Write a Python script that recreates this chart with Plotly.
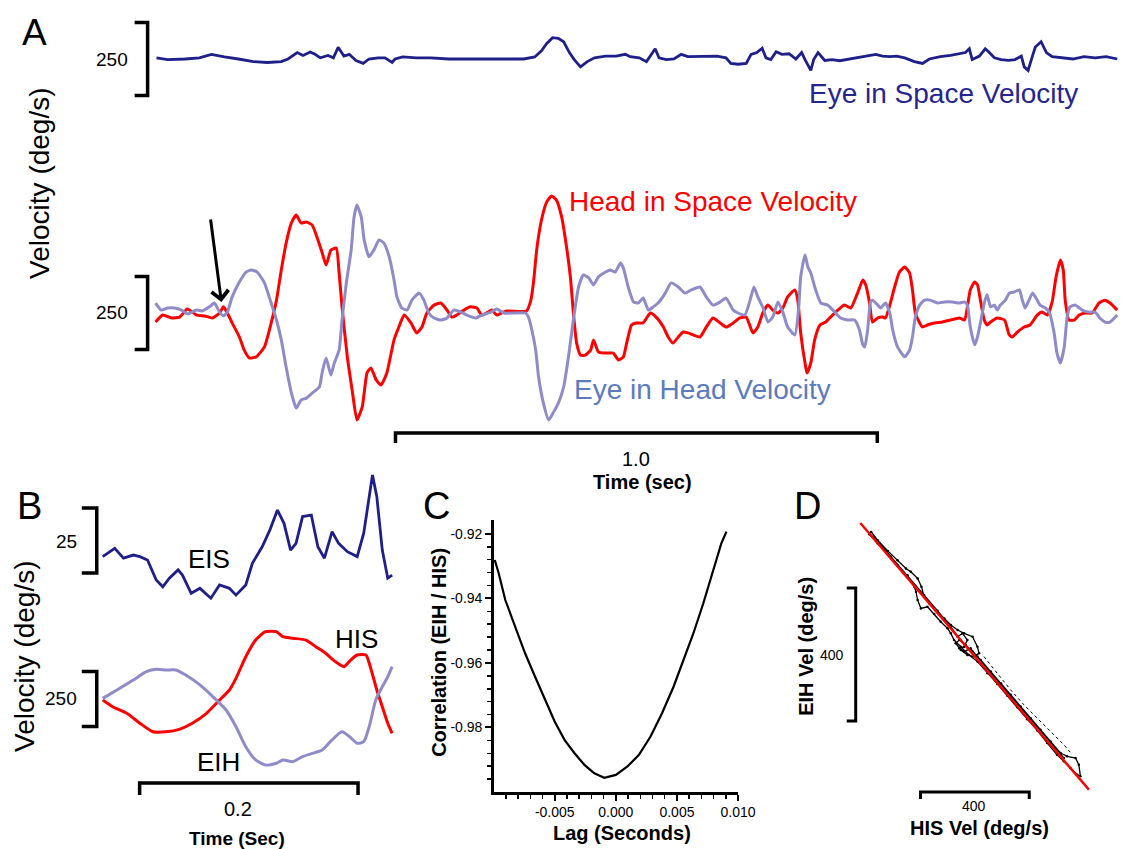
import plotly.graph_objects as go

# ---------------- DATA ----------------
# Panel A - Eye in Space velocity (deg/s) vs time (s)
A_EIS_T = [0.004,0.027,0.064,0.093,0.118,0.145,0.174,0.205,0.234,0.263,0.277,0.296,0.308,0.323,0.333,0.344,0.360,0.371,0.381,0.393,
           0.404,0.418,0.433,0.445,0.464,0.478,0.493,0.499,0.515,0.544,0.573,0.611,0.640,0.685,0.729,0.766,0.789,0.803,0.814,0.826,
           0.838,0.849,0.861,0.871,0.884,0.898,0.913,0.936,0.958,0.977,0.987,1.006,1.021,1.033,1.039,1.047,1.062,1.078,1.093,1.107,
           1.122,1.145,1.167,1.186,1.196,1.211,1.228,1.238,1.250,1.261,1.269,1.279,1.290,1.302,1.317,1.331,1.343,1.350,1.362,1.368,
           1.377,1.391,1.406,1.422,1.437,1.459,1.480,1.497,1.511,1.526,1.540,1.557,1.577,1.594,1.608,1.631,1.652,1.668,1.683,1.691,
           1.697,1.712,1.724,1.731,1.743,1.757,1.772,1.786,1.799,1.805,1.813,1.822,1.828,1.840,1.851,1.863,1.884,1.906,1.929,1.952,
           1.975,1.998]
A_EIS_V = [4,-2,0,4,16,7,0,-9,-12,-9,0,22,12,24,16,4,12,4,40,10,
           16,-5,-15,0,4,4,-12,0,7,4,4,0,0,0,0,0,7,28,53,73,
           71,59,22,-2,-27,-9,4,10,10,16,8,4,-9,22,35,4,-2,0,16,8,
           8,10,10,4,-15,-18,-15,16,22,37,4,-2,25,16,18,0,22,-2,-39,-2,
           22,-5,-2,-6,-2,4,10,16,10,8,10,4,-9,-15,0,8,12,16,22,35,
           -2,10,35,25,4,-2,-5,-2,10,-27,-39,10,41,59,22,8,4,0,8,4,
           8,0]

# Panel A - Head in Space velocity
A_HIS_T = [0.002,0.017,0.035,0.052,0.068,0.087,0.104,0.120,0.135,0.143,
           0.151,0.161,0.176,0.186,0.197,0.211,0.228,0.242,0.253,0.263,
           0.273,0.284,0.294,0.304,0.315,0.327,0.337,0.348,0.356,0.366,
           0.377,0.383,0.389,0.400,0.410,0.420,0.431,0.441,0.449,0.460,
           0.470,0.482,0.497,0.507,0.518,0.532,0.544,0.555,0.565,0.580,
           0.594,0.607,0.617,0.627,0.642,0.656,0.669,0.679,0.689,0.700,
           0.710,0.720,0.731,0.772,0.781,0.787,0.793,0.803,0.814,0.824,
           0.834,0.845,0.855,0.863,0.870,0.876,0.884,0.894,0.905,0.911,
           0.921,0.932,0.942,0.952,0.963,0.973,0.979,0.990,1.000,1.014,
           1.029,1.041,1.056,1.066,1.076,1.087,1.097,1.107,1.118,1.132,
           1.145,1.159,1.174,1.186,1.201,1.215,1.228,1.242,1.252,1.263,
           1.273,1.283,1.294,1.304,1.314,1.329,1.335,1.341,1.350,1.354,
           1.362,1.370,1.381,1.393,1.403,1.418,1.432,1.445,1.459,1.470,
           1.476,1.484,1.490,1.501,1.511,1.517,1.526,1.536,1.546,1.557,
           1.567,1.573,1.579,1.588,1.594,1.604,1.619,1.635,1.652,1.670,
           1.681,1.687,1.693,1.702,1.708,1.714,1.722,1.728,1.735,1.749,
           1.764,1.774,1.780,1.791,1.805,1.817,1.832,1.842,1.853,1.863,
           1.871,1.880,1.886,1.890,1.898,1.909,1.919,1.931,1.946,1.960,
           1.973,1.983,1.998]
A_HIS_V = [-31,-7,-17,-14,14,-7,-10,-17,0,21,
           0,-34,-82,-127,-154,-150,-116,-34,44,147,
           239,308,335,308,311,301,260,205,164,215,
           222,137,21,-150,-263,-366,-321,-205,-188,-229,
           -246,-205,-92,-48,-7,-34,-68,-48,0,27,
           34,10,-14,-7,10,21,17,-7,0,10,
           -7,0,7,7,44,113,215,318,380,400,
           386,328,226,123,-14,-103,-144,-144,-127,-92,
           -133,-137,-137,-137,-161,-150,-109,-41,-34,-34,
           0,-14,-48,-82,-103,-82,-65,-68,-75,-82,
           -48,-17,-34,-48,-34,-17,-14,-68,-48,3,
           27,10,0,17,55,79,44,-68,-171,-205,
           -171,-92,-41,-31,-14,10,27,17,68,113,
           96,34,-31,-17,-14,-17,27,89,140,157,
           137,79,0,-34,-48,-41,-34,-31,-24,-17,
           -24,21,79,106,96,44,-24,-41,-31,-17,
           -24,-75,-82,-65,-48,-41,-7,3,-7,38,
           123,181,147,44,-24,-24,-7,0,0,34,
           44,34,10]

# Panel A - Eye in Head velocity
A_EIH_T = [0.002,0.014,0.027,0.041,0.056,0.068,0.087,0.099,0.114,0.124,
           0.135,0.143,0.151,0.161,0.176,0.190,0.201,0.213,0.228,0.242,
           0.253,0.263,0.273,0.284,0.294,0.304,0.315,0.327,0.342,0.348,
           0.356,0.366,0.373,0.383,0.389,0.398,0.408,0.414,0.420,0.429,
           0.435,0.445,0.455,0.466,0.476,0.487,0.497,0.503,0.513,0.524,
           0.534,0.549,0.559,0.569,0.580,0.594,0.607,0.621,0.636,0.648,
           0.667,0.679,0.698,0.710,0.725,0.745,0.770,0.776,0.783,0.791,
           0.797,0.807,0.818,0.828,0.838,0.849,0.859,0.870,0.880,0.890,
           0.901,0.911,0.921,0.936,0.946,0.956,0.967,0.973,0.983,0.994,
           1.004,1.014,1.025,1.035,1.045,1.060,1.072,1.087,1.101,1.114,
           1.132,1.145,1.159,1.174,1.186,1.201,1.211,1.225,1.236,1.244,
           1.252,1.263,1.273,1.283,1.294,1.304,1.314,1.329,1.337,1.341,
           1.350,1.356,1.362,1.372,1.383,1.397,1.412,1.424,1.439,1.453,
           1.463,1.470,1.474,1.480,1.486,1.490,1.501,1.507,1.517,1.526,
           1.532,1.542,1.557,1.567,1.573,1.579,1.588,1.598,1.610,1.625,
           1.639,1.656,1.670,1.681,1.687,1.693,1.702,1.708,1.714,1.722,
           1.728,1.735,1.743,1.749,1.755,1.766,1.774,1.784,1.795,1.801,
           1.807,1.815,1.822,1.828,1.838,1.849,1.857,1.867,1.873,1.880,
           1.888,1.894,1.900,1.911,1.925,1.940,1.952,1.962,1.973,1.983,
           1.998]
A_EIH_V = [34,10,17,17,10,-3,10,7,21,34,
           3,-10,3,55,106,140,147,140,103,34,
           -24,-92,-185,-274,-325,-298,-291,-274,-253,-202,
           -154,-212,-171,-127,-24,103,215,328,369,328,
           250,192,215,250,239,192,113,55,17,10,
           44,68,44,0,-17,-24,-17,10,3,-7,
           -17,-7,3,14,0,0,0,-14,-58,-127,
           -219,-308,-366,-339,-308,-253,-150,-14,89,130,
           120,96,123,140,147,140,171,154,89,38,
           34,51,10,21,34,68,103,89,68,79,
           89,55,27,38,51,10,0,-7,44,89,
           55,17,-31,-14,38,3,-48,-75,21,123,
           198,157,137,79,34,27,3,-17,-24,-24,
           -58,-109,-116,-58,38,44,27,17,34,0,
           -58,-116,-150,-127,-82,-14,27,44,44,34,
           38,38,34,38,27,-48,-109,-82,-34,34,
           62,21,27,10,27,44,68,72,79,44,
           17,44,68,55,27,17,3,-68,-137,-171,
           -116,-14,21,27,10,3,3,-17,-31,-31,
           -7]

# Panel B (zoomed segment)
B_EIS_T = [0.000,0.011,0.019,0.028,0.034,0.041,0.049,0.055,0.061,0.069,0.073,0.081,0.089,0.099,0.107,0.116,0.122,0.131,0.137,0.146,
           0.153,0.160,0.166,0.172,0.177,0.183,0.191,0.197,0.203,0.210,0.216,0.224,0.233,0.239,0.247,0.251,0.256,0.261,0.265]
B_EIS_V = [-6.2,-3.0,-6.8,-5.6,-6.2,-7.5,-15.2,-17.8,-14.5,-11.3,-13.3,-20.3,-18.4,-22.2,-17.1,-18.4,-21.0,-17.1,-8.8,-2.4,
           4.0,11.7,6.6,-3.7,-1.1,9.2,9.8,-2.4,-6.8,3.4,-1.1,-4.3,-6.2,2.8,25.2,16.8,-3.7,-14.5,-13.3]
B_HIS_T = [0.000,0.009,0.022,0.034,0.046,0.058,0.070,0.082,0.095,0.107,0.116,0.122,0.131,0.140,0.149,0.159,0.165,0.174,0.186,0.195,
           0.204,0.213,0.221,0.227,0.233,0.241,0.245,0.251,0.256,0.261,0.265]
B_HIS_V = [-5,-35,-65,-110,-149,-149,-138,-110,-65,-5,41,94,192,268,306,306,283,276,268,238,
           208,170,147,177,200,200,147,41,-35,-110,-156]
B_EIH_T = [0.000,0.013,0.028,0.040,0.049,0.058,0.067,0.076,0.089,0.101,0.113,0.122,0.131,0.140,0.149,0.159,0.165,0.174,0.183,0.192,
           0.201,0.210,0.219,0.226,0.233,0.239,0.244,0.250,0.256,0.261,0.265]
B_EIH_V = [3,41,86,124,135,132,132,109,64,10,-50,-126,-217,-277,-300,-292,-277,-285,-262,-247,
           -232,-186,-149,-171,-201,-194,-126,-5,56,101,147]

# Panel C - cross correlation vs lag
C_LAG = [-0.00991,-0.00959,-0.00905,-0.00824,-0.00743,-0.00662,-0.00581,-0.00500,-0.00419,-0.00338,-0.00257,-0.00176,-0.00095,
         0.00000,0.00095,0.00189,0.00284,0.00378,0.00473,0.00554,0.00635,0.00716,0.00797,0.00864,0.00905]
C_CORR = [-0.9281,-0.9322,-0.9405,-0.9487,-0.9570,-0.9642,-0.9715,-0.9782,-0.9839,-0.9880,-0.9916,-0.9942,-0.9956,
          -0.9947,-0.9921,-0.9885,-0.9828,-0.9756,-0.9673,-0.9591,-0.9508,-0.9415,-0.9312,-0.9229,-0.9193]
C_YTICKS = [-0.98, -0.96, -0.94, -0.92]
C_XTICKS = [-0.005, 0.000, 0.005, 0.010]

# Panel D - EIH vs HIS velocity (deg/s), recorded trajectory
D_HIS = [-342,-318,-281,-245,-214,-196,-171,-157,-147,-128,-98,-73,-49,-24,0,31,49,55,37,12,-12,-31,-18,6,31,61,98,135,171,208,
         245,281,318,355,379,410,422,428,416,391,367,
         342,306,269,232,196,159,122,86,49,18,-12,-37,-49,-61,-86,-110,-135,-159,-171,-177,-183,-208,-245,-281,-318,-349,
         -330,-269,-208,-147,-98,-49,-24,-6,12,0,-18,0,24,49,98,171,245,318,367]
D_EIH = [325,300,268,240,215,205,185,160,130,110,85,65,45,30,20,10,-20,-40,-50,-45,-30,-10,0,-15,-35,-60,-95,-130,-165,-200,
         -235,-270,-305,-340,-350,-355,-375,-410,-405,-385,-365,
         -345,-310,-272,-238,-202,-168,-132,-100,-65,-45,-20,0,20,35,55,78,100,95,120,145,160,190,225,258,290,318,
         308,250,195,135,88,40,10,20,0,-20,-25,-35,-25,-50,-100,-170,-238,-308,-355]
D_DOT_HIS = [73,122,171,220,269,318,367,391]
D_DOT_EIH = [-50,-100,-150,-195,-235,-275,-315,-338]
D_FIT_HIS = [-382, 459]
D_FIT_EIH = [352, -450]

# Scale bars
SCALE_A_VEL = 250
SCALE_A_TIME = 1.0
SCALE_B_EIS = 25
SCALE_B_VEL = 250
SCALE_B_TIME = 0.2
SCALE_D = 400

for a, b in [(A_EIS_T, A_EIS_V), (A_HIS_T, A_HIS_V), (A_EIH_T, A_EIH_V), (B_EIS_T, B_EIS_V),
             (B_HIS_T, B_HIS_V), (B_EIH_T, B_EIH_V), (C_LAG, C_CORR), (D_HIS, D_EIH), (D_DOT_HIS, D_DOT_EIH)]:
    assert len(a) == len(b), (len(a), len(b))

# ---------------- LAYOUT HELPERS ----------------
TW, H = 1125, 849          # target picture size
W = 1140                   # layout width (compensates the horizontal squeeze seen in the photograph)
def fx(p): return p / TW
def fy(p): return 1 - p / H

FONT = "Liberation Sans, Arial, sans-serif"
NAVY = "#1f1f8a"
RED = "#ff0000"
LAV = "#8f8bc8"
EIH_TXT = "#5b7bbd"
BLACK = "#000000"

# Panel A geometry (pixels)
A_T0, A_PPS, A_VPP = 155.0, 483.09, 3.42
A_TOP0, A_LOW0 = 59.0, 313.0
# Panel B geometry
B_T0, B_PPS = 103.0, 1095.0
B_EIS0, B_EIS_PPU = 540.5, 2.6
B_LOW0, B_LOW_VPP = 699.0, 4.545
# Panel D geometry
D_X0, D_XPPU = 966.7, 0.2725
D_Y0, D_YPPU = 640.0, 0.3325

hidden = dict(visible=False, showgrid=False, zeroline=False, fixedrange=True)

fig = go.Figure()

def line(x, y, xa, ya, color=BLACK, width=3.5, dash=None, shape="linear", smoothing=None):
    ln = dict(color=color, width=width, shape=shape)
    if dash:
        ln["dash"] = dash
    if smoothing is not None:
        ln["smoothing"] = smoothing
    fig.add_trace(go.Scatter(x=x, y=y, xaxis=xa, yaxis=ya, mode="lines", line=ln,
                             hoverinfo="skip", showlegend=False))

# ---- Panel A traces
line(A_EIS_T, A_EIS_V, "x", "y", NAVY, 2.8)
line(A_HIS_T, A_HIS_V, "x", "y2", RED, 3.0, shape="spline", smoothing=0.5)
line(A_EIH_T, A_EIH_V, "x", "y2", LAV, 3.0, shape="spline", smoothing=0.5)

# Panel A scale bars
bx_in = (148 - A_T0) / A_PPS
bx_out = (135 - A_T0) / A_PPS
h = SCALE_A_VEL / 2
line([bx_out, bx_in, bx_in, bx_out], [h, h, -h, -h], "x", "y")
line([bx_out, bx_in, bx_in, bx_out], [h, h, -h, -h], "x", "y2")
t_start = 0.5
bar_y = (A_LOW0 - 433) * A_VPP
tick_y = (A_LOW0 - 443) * A_VPP
line([t_start, t_start, t_start + SCALE_A_TIME, t_start + SCALE_A_TIME], [tick_y, bar_y, bar_y, tick_y], "x", "y2")

# ---- Panel B traces
line(B_EIS_T, B_EIS_V, "x2", "y3", NAVY, 2.8)
line(B_HIS_T, B_HIS_V, "x2", "y4", RED, 3.0, shape="spline", smoothing=0.6)
line(B_EIH_T, B_EIH_V, "x2", "y4", LAV, 3.0, shape="spline", smoothing=0.6)
bbx_in = (97 - B_T0) / B_PPS
bbx_out = (82 - B_T0) / B_PPS
he = SCALE_B_EIS / 2
line([bbx_out, bbx_in, bbx_in, bbx_out], [he, he, -he, -he], "x2", "y3")
hv = SCALE_B_VEL / 2
line([bbx_out, bbx_in, bbx_in, bbx_out], [hv, hv, -hv, -hv], "x2", "y4")
bt0 = (140 - B_T0) / B_PPS
bby = (B_LOW0 - 783) * B_LOW_VPP
bty = (B_LOW0 - 795) * B_LOW_VPP
line([bt0, bt0, bt0 + SCALE_B_TIME, bt0 + SCALE_B_TIME], [bty, bby, bby, bty], "x2", "y4")

# ---- Panel C
line(C_LAG, C_CORR, "x3", "y5", BLACK, 2.2)

# ---- Panel D
fig.add_trace(go.Scatter(x=D_HIS, y=D_EIH, xaxis="x4", yaxis="y6", mode="lines+markers",
                         line=dict(color=BLACK, width=1.3), marker=dict(size=2.5, color=BLACK),
                         hoverinfo="skip", showlegend=False))
fig.add_trace(go.Scatter(x=D_DOT_HIS, y=D_DOT_EIH, xaxis="x4", yaxis="y6", mode="lines",
                         line=dict(color=BLACK, width=1, dash="dot"),
                         hoverinfo="skip", showlegend=False))
line(D_FIT_HIS, D_FIT_EIH, "x4", "y6", RED, 2.4)
dvx = (858 - D_X0) / D_XPPU
dvx_out = (849 - D_X0) / D_XPPU
dtop = (D_Y0 - 588) / D_YPPU
line([dvx_out, dvx, dvx, dvx_out], [dtop, dtop, dtop - SCALE_D, dtop - SCALE_D], "x4", "y6", width=3)
dhy = (D_Y0 - 792) / D_YPPU
dhy_t = (D_Y0 - 799) / D_YPPU
dhx = (923 - D_X0) / D_XPPU
line([dhx, dhx, dhx + SCALE_D, dhx + SCALE_D], [dhy_t, dhy, dhy, dhy_t], "x4", "y6", width=3)

# ---------------- AXES ----------------
axis_c = dict(showline=True, linecolor=BLACK, linewidth=2.5, ticks="outside", ticklen=6, tickwidth=2,
              tickcolor=BLACK, showgrid=False, zeroline=False, fixedrange=True,
              tickfont=dict(family=FONT, size=14, color=BLACK))

fig.update_layout(
    width=W, height=H, autosize=False,
    margin=dict(l=0, r=0, t=0, b=0, pad=0),
    paper_bgcolor="white", plot_bgcolor="rgba(0,0,0,0)",
    showlegend=False,
    font=dict(family=FONT, color=BLACK),
    xaxis=dict(hidden, domain=[fx(60), fx(1123)], range=[(60 - A_T0) / A_PPS, (1123 - A_T0) / A_PPS], anchor="y"),
    yaxis=dict(hidden, domain=[fy(110), fy(8)], range=[(A_TOP0 - 110) * A_VPP, (A_TOP0 - 8) * A_VPP], anchor="x"),
    yaxis2=dict(hidden, domain=[fy(455), fy(178)], range=[(A_LOW0 - 455) * A_VPP, (A_LOW0 - 178) * A_VPP], anchor="x"),
    xaxis2=dict(hidden, domain=[fx(40), fx(400)], range=[(40 - B_T0) / B_PPS, (400 - B_T0) / B_PPS], anchor="y3"),
    yaxis3=dict(hidden, domain=[fy(610), fy(465)], range=[(B_EIS0 - 610) / B_EIS_PPU, (B_EIS0 - 465) / B_EIS_PPU], anchor="x2"),
    yaxis4=dict(hidden, domain=[fy(802), fy(615)], range=[(B_LOW0 - 802) * B_LOW_VPP, (B_LOW0 - 615) * B_LOW_VPP], anchor="x2"),
    xaxis3=dict(axis_c, domain=[fx(495), fx(740)], range=[-0.010, 0.010], anchor="y5",
                tickmode="array", tickvals=C_XTICKS, ticktext=["-0.005", "0.000", "0.005", "0.010"],
                minor=dict(ticks="outside", ticklen=4, tickwidth=1.5, tickcolor=BLACK,
                           tickvals=[-0.009, -0.008, -0.007, -0.006, -0.004, -0.003, -0.002, -0.001,
                                     0.001, 0.002, 0.003, 0.004, 0.006, 0.007, 0.008, 0.009])),
    yaxis5=dict(axis_c, domain=[fy(792), fy(520)], range=[-1.0, -0.9157], anchor="x3",
                tickmode="array", tickvals=C_YTICKS, ticktext=["-0.98", "-0.96", "-0.94", "-0.92"],
                minor=dict(ticks="outside", ticklen=4, tickwidth=1.5, tickcolor=BLACK,
                           tickvals=[-0.996, -0.992, -0.988, -0.984, -0.976, -0.972, -0.968, -0.964,
                                     -0.956, -0.952, -0.948, -0.944, -0.936, -0.932, -0.928, -0.924])),
    xaxis4=dict(hidden, domain=[fx(840), fx(1110)], range=[(840 - D_X0) / D_XPPU, (1110 - D_X0) / D_XPPU], anchor="y6"),
    yaxis6=dict(hidden, domain=[fy(805), fy(505)], range=[(D_Y0 - 805) / D_YPPU, (D_Y0 - 505) / D_YPPU], anchor="x4"),
)

# ---------------- TEXT ----------------
anns = []
def txt(text, x, y, size, color=BLACK, xanchor="center", yanchor="middle", angle=0, bold=False):
    anns.append(dict(text=("<b>%s</b>" % text) if bold else text, x=fx(x), y=fy(y), xref="paper", yref="paper",
                     xanchor=xanchor, yanchor=yanchor, showarrow=False, textangle=angle, borderpad=0,
                     font=dict(family=FONT, size=size, color=color)))

# Panel A
txt("A", 35, 32, 37)
txt("250", 129, 59, 19, xanchor="right")
txt("250", 129, 313, 19, xanchor="right")
txt("Velocity (deg/s)", 40, 183, 28, angle=-90)
txt("Eye in Space Velocity", 810, 93, 28, color="#25258f", xanchor="left")
txt("Head in Space Velocity", 570, 201, 28, color=RED, xanchor="left")
txt("Eye in Head Velocity", 575, 390, 28, color=EIH_TXT, xanchor="left")
txt("1.0", 638, 459, 20)
txt("Time (sec)", 644, 482, 20, bold=True)

# Panel B
txt("B", 30, 506, 38)
txt("25", 78, 541, 19, xanchor="right")
txt("250", 78, 698, 19, xanchor="right")
txt("Velocity (deg/s)", 24, 656, 28, angle=-90)
txt("EIS", 187, 559, 26, xanchor="left")
txt("HIS", 335, 639, 26, xanchor="left")
txt("EIH", 197, 762, 26, xanchor="left")
txt("0.2", 239, 809, 20)
txt("Time (Sec)", 238, 838, 19, bold=True)

# Panel C
txt("C", 438, 506, 38)
txt("Correlation (EIH / HIS)", 440, 652, 20, angle=-90, bold=True)
txt("Lag (Seconds)", 624, 833, 20, bold=True)

# Panel D
txt("D", 810, 506, 38)
txt("EIH Vel (deg/s)", 808, 646, 20, angle=-90, bold=True)
txt("400", 847, 655, 14, xanchor="right")
txt("400", 977, 806, 14)
txt("HIS Vel (deg/s)", 982, 828, 20, bold=True)

# Arrow in panel A
anns.append(dict(x=(222 - A_T0) / A_PPS, y=(A_LOW0 - 302) * A_VPP, xref="x", yref="y2",
                 ax=-11, ay=-84, axref="pixel", ayref="pixel", text="", showarrow=True,
                 arrowhead=4, arrowsize=1.1, arrowwidth=3, arrowcolor=BLACK))

fig.update_layout(annotations=anns)

fig.write_html("out.html", include_plotlyjs=True,
               config={"displayModeBar": False, "staticPlot": True, "responsive": False},
               post_script="document.documentElement.style.overflow='hidden';"
                           "document.body.style.margin='0';document.body.style.overflow='hidden';")
